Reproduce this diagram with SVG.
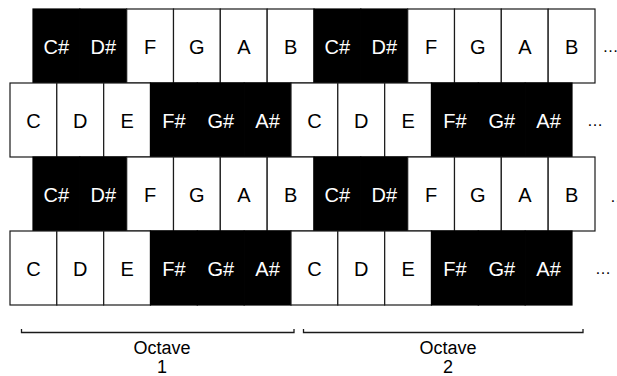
<svg xmlns="http://www.w3.org/2000/svg" width="617" height="376" viewBox="0 0 617 376">
<style>
.w{fill:#fff;stroke:#1a1a1a;stroke-width:1.2}
.b{fill:#000;stroke:#000;stroke-width:1.2}
text{font-family:"Liberation Sans",Arial,sans-serif;text-anchor:middle}
.tw{fill:#000;font-size:20px}
.tb{fill:#fff;font-size:20px}
.dots{fill:#000;font-size:16px;text-anchor:start}
.lab{fill:#000;font-size:18px}
.br{fill:none;stroke:#1a1a1a;stroke-width:1.3}
</style>
<rect width="617" height="376" fill="#fff"/>
<g id="row1">
<g id="r1k1"><rect class="b" x="33" y="9" width="46.8" height="74"/><text class="tb" x="56.4" y="54">C#</text></g>
<g id="r1k2"><rect class="b" x="79.8" y="9" width="46.8" height="74"/><text class="tb" x="103.3" y="54">D#</text></g>
<g id="r1k3"><rect class="w" x="126.7" y="9" width="46.8" height="74"/><text class="tw" x="150.1" y="54">F</text></g>
<g id="r1k4"><rect class="w" x="173.5" y="9" width="46.8" height="74"/><text class="tw" x="196.9" y="54">G</text></g>
<g id="r1k5"><rect class="w" x="220.3" y="9" width="46.8" height="74"/><text class="tw" x="243.8" y="54">A</text></g>
<g id="r1k6"><rect class="w" x="267.2" y="9" width="46.8" height="74"/><text class="tw" x="290.6" y="54">B</text></g>
<g id="r1k7"><rect class="b" x="314" y="9" width="46.8" height="74"/><text class="tb" x="337.4" y="54">C#</text></g>
<g id="r1k8"><rect class="b" x="360.8" y="9" width="46.8" height="74"/><text class="tb" x="384.3" y="54">D#</text></g>
<g id="r1k9"><rect class="w" x="407.7" y="9" width="46.8" height="74"/><text class="tw" x="431.1" y="54">F</text></g>
<g id="r1k10"><rect class="w" x="454.5" y="9" width="46.8" height="74"/><text class="tw" x="477.9" y="54">G</text></g>
<g id="r1k11"><rect class="w" x="501.3" y="9" width="46.8" height="74"/><text class="tw" x="524.8" y="54">A</text></g>
<g id="r1k12"><rect class="w" x="548.2" y="9" width="46.8" height="74"/><text class="tw" x="571.6" y="54">B</text></g>
<text class="dots" x="602.5" y="52">…</text>
</g>
<g id="row2">
<g id="r2k1"><rect class="w" x="10" y="83" width="46.8" height="74"/><text class="tw" x="33.4" y="128">C</text></g>
<g id="r2k2"><rect class="w" x="56.8" y="83" width="46.8" height="74"/><text class="tw" x="80.3" y="128">D</text></g>
<g id="r2k3"><rect class="w" x="103.7" y="83" width="46.8" height="74"/><text class="tw" x="127.1" y="128">E</text></g>
<g id="r2k4"><rect class="b" x="150.5" y="83" width="46.8" height="74"/><text class="tb" x="173.9" y="128">F#</text></g>
<g id="r2k5"><rect class="b" x="197.3" y="83" width="46.8" height="74"/><text class="tb" x="220.8" y="128">G#</text></g>
<g id="r2k6"><rect class="b" x="244.2" y="83" width="46.8" height="74"/><text class="tb" x="267.6" y="128">A#</text></g>
<g id="r2k7"><rect class="w" x="291" y="83" width="46.8" height="74"/><text class="tw" x="314.4" y="128">C</text></g>
<g id="r2k8"><rect class="w" x="337.8" y="83" width="46.8" height="74"/><text class="tw" x="361.3" y="128">D</text></g>
<g id="r2k9"><rect class="w" x="384.7" y="83" width="46.8" height="74"/><text class="tw" x="408.1" y="128">E</text></g>
<g id="r2k10"><rect class="b" x="431.5" y="83" width="46.8" height="74"/><text class="tb" x="454.9" y="128">F#</text></g>
<g id="r2k11"><rect class="b" x="478.3" y="83" width="46.8" height="74"/><text class="tb" x="501.8" y="128">G#</text></g>
<g id="r2k12"><rect class="b" x="525.2" y="83" width="46.8" height="74"/><text class="tb" x="548.6" y="128">A#</text></g>
<text class="dots" x="587" y="125.5">…</text>
</g>
<g id="row3">
<g id="r3k1"><rect class="b" x="33" y="157" width="46.8" height="74"/><text class="tb" x="56.4" y="202">C#</text></g>
<g id="r3k2"><rect class="b" x="79.8" y="157" width="46.8" height="74"/><text class="tb" x="103.3" y="202">D#</text></g>
<g id="r3k3"><rect class="w" x="126.7" y="157" width="46.8" height="74"/><text class="tw" x="150.1" y="202">F</text></g>
<g id="r3k4"><rect class="w" x="173.5" y="157" width="46.8" height="74"/><text class="tw" x="196.9" y="202">G</text></g>
<g id="r3k5"><rect class="w" x="220.3" y="157" width="46.8" height="74"/><text class="tw" x="243.8" y="202">A</text></g>
<g id="r3k6"><rect class="w" x="267.2" y="157" width="46.8" height="74"/><text class="tw" x="290.6" y="202">B</text></g>
<g id="r3k7"><rect class="b" x="314" y="157" width="46.8" height="74"/><text class="tb" x="337.4" y="202">C#</text></g>
<g id="r3k8"><rect class="b" x="360.8" y="157" width="46.8" height="74"/><text class="tb" x="384.3" y="202">D#</text></g>
<g id="r3k9"><rect class="w" x="407.7" y="157" width="46.8" height="74"/><text class="tw" x="431.1" y="202">F</text></g>
<g id="r3k10"><rect class="w" x="454.5" y="157" width="46.8" height="74"/><text class="tw" x="477.9" y="202">G</text></g>
<g id="r3k11"><rect class="w" x="501.3" y="157" width="46.8" height="74"/><text class="tw" x="524.8" y="202">A</text></g>
<g id="r3k12"><rect class="w" x="548.2" y="157" width="46.8" height="74"/><text class="tw" x="571.6" y="202">B</text></g>
<text class="dots" x="610" y="201.5">…</text>
</g>
<g id="row4">
<g id="r4k1"><rect class="w" x="10" y="231" width="46.8" height="74"/><text class="tw" x="33.4" y="276">C</text></g>
<g id="r4k2"><rect class="w" x="56.8" y="231" width="46.8" height="74"/><text class="tw" x="80.3" y="276">D</text></g>
<g id="r4k3"><rect class="w" x="103.7" y="231" width="46.8" height="74"/><text class="tw" x="127.1" y="276">E</text></g>
<g id="r4k4"><rect class="b" x="150.5" y="231" width="46.8" height="74"/><text class="tb" x="173.9" y="276">F#</text></g>
<g id="r4k5"><rect class="b" x="197.3" y="231" width="46.8" height="74"/><text class="tb" x="220.8" y="276">G#</text></g>
<g id="r4k6"><rect class="b" x="244.2" y="231" width="46.8" height="74"/><text class="tb" x="267.6" y="276">A#</text></g>
<g id="r4k7"><rect class="w" x="291" y="231" width="46.8" height="74"/><text class="tw" x="314.4" y="276">C</text></g>
<g id="r4k8"><rect class="w" x="337.8" y="231" width="46.8" height="74"/><text class="tw" x="361.3" y="276">D</text></g>
<g id="r4k9"><rect class="w" x="384.7" y="231" width="46.8" height="74"/><text class="tw" x="408.1" y="276">E</text></g>
<g id="r4k10"><rect class="b" x="431.5" y="231" width="46.8" height="74"/><text class="tb" x="454.9" y="276">F#</text></g>
<g id="r4k11"><rect class="b" x="478.3" y="231" width="46.8" height="74"/><text class="tb" x="501.8" y="276">G#</text></g>
<g id="r4k12"><rect class="b" x="525.2" y="231" width="46.8" height="74"/><text class="tb" x="548.6" y="276">A#</text></g>
<text class="dots" x="595" y="274">…</text>
</g>
<g id="connectors">
<path class="br" d="M21.5,329 V332.5 H294 V329"/>
<path class="br" d="M303.5,329 V332.5 H583 V329"/>
</g>
<g id="octave1"><text class="lab" x="162" y="354">Octave</text><text class="lab" x="162" y="372.5">1</text></g>
<g id="octave2"><text class="lab" x="448" y="354">Octave</text><text class="lab" x="448" y="372.5">2</text></g>
</svg>
